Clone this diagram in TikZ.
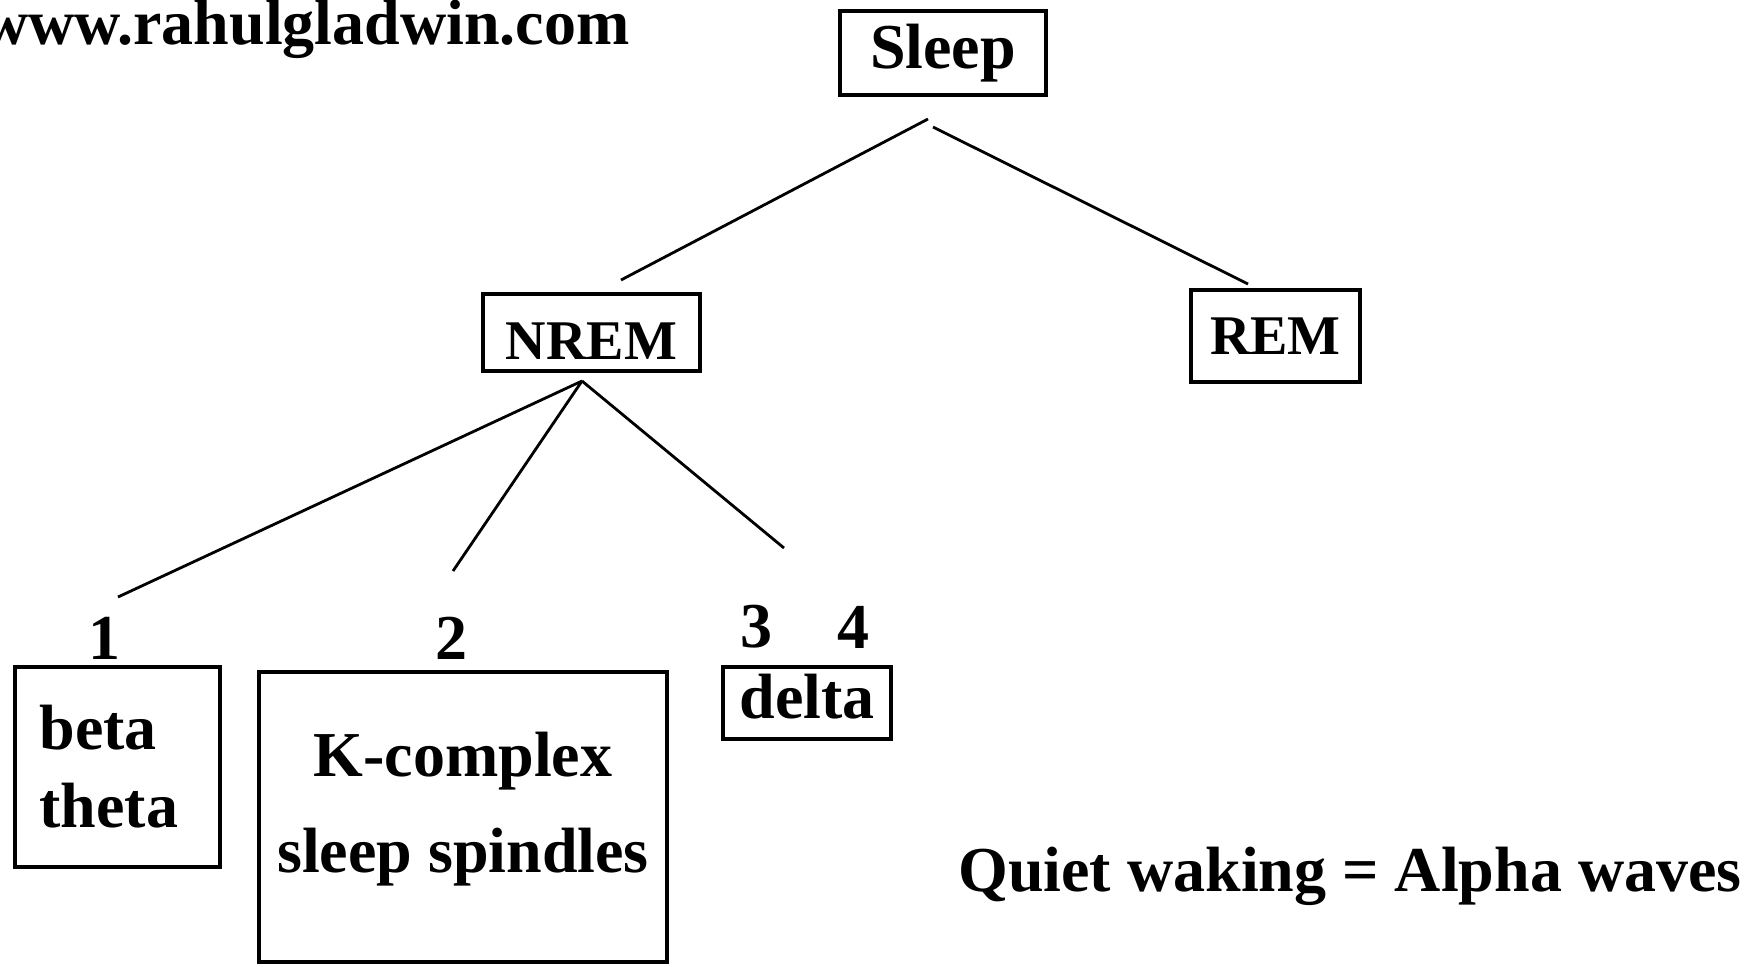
\documentclass[tikz,border=0pt]{standalone}
\usepackage{fontspec}
\setmainfont{Liberation Serif}
\begin{document}
\begin{tikzpicture}[x=0.5pt,y=-0.5pt,
  txtfont/.style={font=\bfseries\fontsize{32}{48}\selectfont},
  box/.style={draw, line width=2pt, inner sep=0pt, txtfont},
  lbl/.style={inner sep=0pt, txtfont},
  conn/.style={line width=1.4pt}]
\useasboundingbox (0,0) rectangle (1755,966);
% boxes
\node[box, minimum width=103pt, minimum height=42pt] (sleep) at (943,53) {Sleep};
\node[box, minimum width=108.5pt, minimum height=38.5pt, text height=27pt, font=\bfseries\fontsize{28}{34}\selectfont] (nrem) at (591.5,332.5) {NREM};
\node[box, minimum width=84.5pt, minimum height=46pt, font=\bfseries\fontsize{28}{34}\selectfont] (rem) at (1275.5,336) {REM};
\node[box, text width=78pt, inner xsep=12.25pt, minimum height=100pt, align=left, font=\bfseries\fontsize{32}{39}\selectfont] (stage1) at (117.5,767) {beta\\theta};
\node[box, minimum width=204pt, minimum height=145pt, align=center, text depth=15pt] (stage2) at (463,817) {K-complex\\sleep spindles};
\node[box, minimum width=84pt, minimum height=36pt, text depth=7pt] (stage34) at (807,703) {delta};
% labels
\node[lbl] (n1) at (104,638) {1};
\node[lbl] (n2) at (451,638) {2};
\node[lbl] (n3) at (756,627) {3};
\node[lbl] (n4) at (853,627) {4};
\node[lbl, anchor=base east] (url) at (630,44) {www.rahulgladwin.com};
\node[lbl] (quiet) at (1350,876) {Quiet waking = Alpha waves};
% connector end points
\coordinate (sA) at (928,119);
\coordinate (sB) at (933,127);
\coordinate (nremTop) at (621,280);
\coordinate (remTop) at (1248,284);
\coordinate (nA) at (582,381);
\coordinate (e1) at (118,597);
\coordinate (e2) at (453,571);
\coordinate (e34) at (784,548);
% connectors
\draw[conn] (sA) -- (nremTop);
\draw[conn] (sB) -- (remTop);
\draw[conn] (nA) -- (e1);
\draw[conn] (nA) -- (e2);
\draw[conn] (nA) -- (e34);
\end{tikzpicture}
\end{document}
